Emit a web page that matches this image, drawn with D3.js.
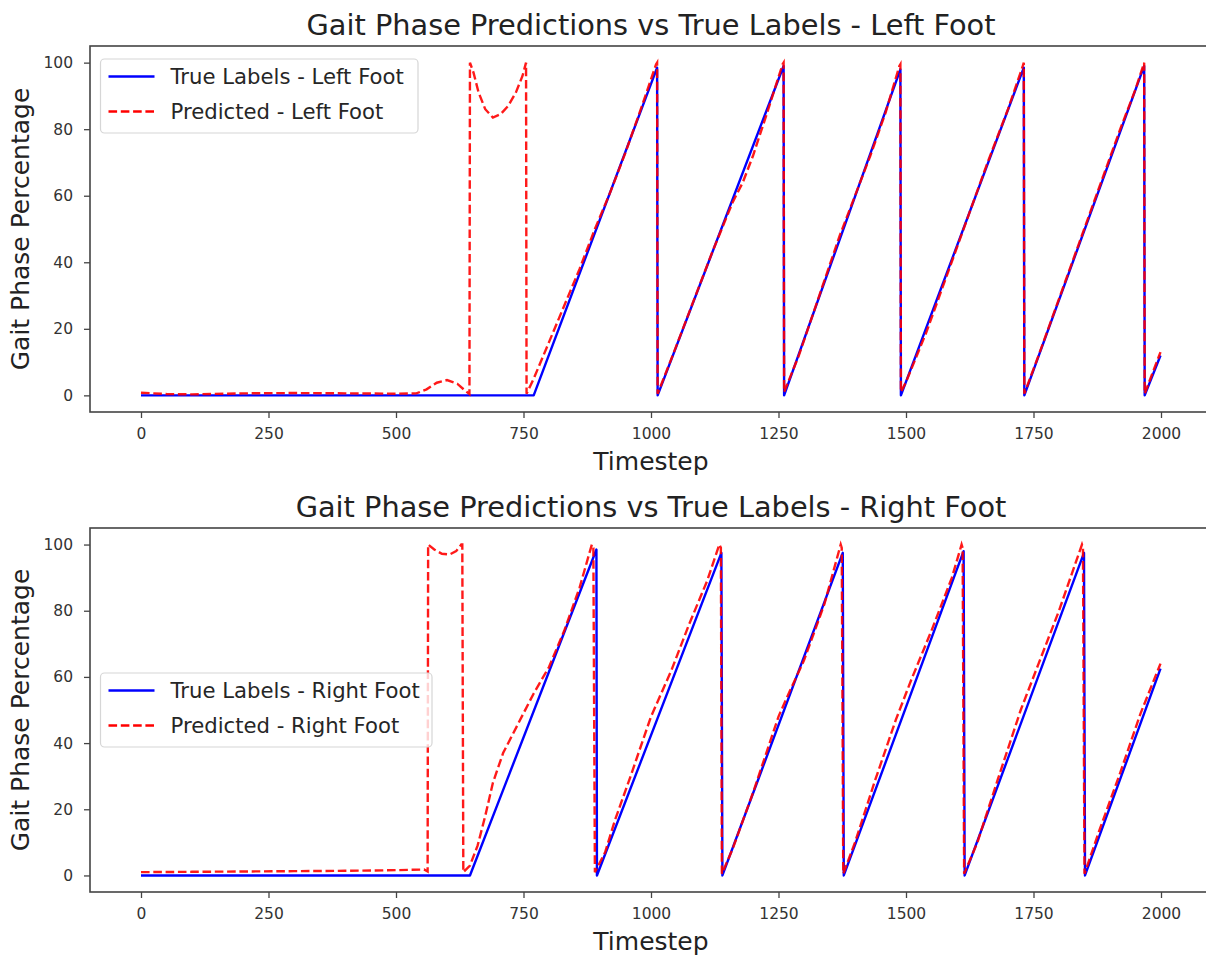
<!DOCTYPE html>
<html>
<head>
<meta charset="utf-8">
<script src="https://cdn.jsdelivr.net/npm/d3@7"></script>
<style>
  body { margin: 0; background: #fff; }
  svg { display: block; font-family: "DejaVu Sans", sans-serif; }
  .tick text { font-family: "DejaVu Sans", sans-serif; font-size: 15.5px; fill: #333; }
  .tick line { stroke: #444; stroke-width: 1.3; }
</style>
</head>
<body>
<svg class="main" width="1206" height="958"></svg>
<script>
const xTicks = [0, 250, 500, 750, 1000, 1250, 1500, 1750, 2000];
const yTicks = [0, 20, 40, 60, 80, 100];

// [timestep, gait phase %]
const leftTrue = [
  [0, 0], [770, 0], [1012, 98.5], [1013, 0], [1260, 99], [1261, 0],
  [1489, 98], [1490, 0], [1731, 98.5], [1732, 0], [1967, 99], [1968, 0],
  [1999, 12]
];

const leftPred = [
  [0, 0.8], [50, 0.4], [100, 0.3], [200, 0.6], [300, 0.7], [400, 0.6],
  [500, 0.5], [540, 0.6], [560, 1.8], [580, 3.8], [600, 4.6], [620, 3.5],
  [635, 1.5], [644, 0.4], [645, 100], [652, 97], [662, 91], [675, 86],
  [690, 83.5], [705, 84.5], [720, 87], [735, 91], [748, 96], [755, 100],
  [756, 0.5], [770, 5], [800, 16], [830, 27], [860, 38], [890, 50],
  [920, 61], [950, 73], [980, 86], [1010, 99.5], [1012, 100], [1013, 0.5],
  [1040, 11], [1080, 27], [1120, 43], [1160, 58], [1180, 64], [1200, 72],
  [1230, 86], [1258, 99.5], [1260, 100], [1261, 1],
  [1290, 12], [1330, 30], [1370, 48], [1400, 60], [1430, 72], [1460, 85],
  [1487, 99], [1489, 99.5], [1490, 1],
  [1500, 4], [1540, 19], [1580, 36], [1620, 53], [1660, 70], [1700, 86],
  [1729, 99], [1731, 100], [1732, 0.5],
  [1760, 12], [1800, 29], [1840, 46], [1880, 63], [1920, 80], [1950, 92],
  [1966, 99.5], [1967, 100], [1968, 0.5], [1999, 13]
];

const rightTrue = [
  [0, 0], [645, 0], [893, 98.5], [894, 0], [1138, 97.5], [1140, 0],
  [1376, 97.5], [1378, 0], [1613, 98], [1615, 0], [1849, 97.5], [1851, 0],
  [1999, 62.5]
];

const rightPred = [
  [0, 1.0], [100, 1.1], [200, 1.2], [300, 1.3], [400, 1.4], [500, 1.6],
  [555, 1.8], [562, 1.2], [563, 100], [575, 98.5], [590, 97.2], [605, 97],
  [618, 98], [628, 100], [630, 100], [632, 1],
  [645, 3], [660, 9], [675, 18], [690, 28], [710, 37], [740, 46],
  [770, 55], [800, 63], [830, 74], [860, 87], [884, 100], [887, 99], [890, 1],
  [910, 7], [930, 17], [960, 30], [1000, 48], [1040, 62], [1075, 76],
  [1110, 89], [1134, 100], [1137, 99], [1139, 0.5],
  [1160, 8], [1200, 25], [1250, 48], [1270, 55], [1300, 65], [1340, 82],
  [1372, 100], [1374, 99], [1377, 0.5],
  [1400, 10], [1440, 29], [1480, 47], [1510, 59], [1550, 74], [1590, 90],
  [1609, 100], [1611, 99], [1614, 0.5],
  [1640, 10], [1680, 29], [1725, 50], [1760, 64], [1800, 80], [1845, 100],
  [1847, 99], [1850, 0.5],
  [1880, 14], [1920, 31], [1960, 49], [1999, 64]
];

const main = d3.select(".main");
const x = d3.scaleLinear().domain([-100, 2100]).range([90, 1212]);
const left = 90, right = 1212, mid = (left + right) / 2;

function legend(g, lx, ly, w, labels) {
  const box = g.append("g");
  box.append("rect")
    .attr("x", lx).attr("y", ly)
    .attr("width", w).attr("height", 74)
    .attr("rx", 4)
    .attr("fill", "#fff").attr("fill-opacity", 0.8)
    .attr("stroke", "#d6d6d6").attr("stroke-width", 1.2);

  labels.forEach((d, i) => {
    const cy = ly + 17.5 + i * 35;
    box.append("line")
      .attr("x1", lx + 8).attr("x2", lx + 54)
      .attr("y1", cy).attr("y2", cy)
      .attr("stroke", d.color)
      .attr("stroke-width", 2.4)
      .attr("stroke-dasharray", d.dash);
    box.append("text")
      .attr("x", lx + 70).attr("y", cy)
      .attr("dy", "0.36em")
      .attr("font-size", 21.2)
      .attr("fill", "#262626")
      .text(d.text);
  });
}

function panel(p, id) {
  const y = d3.scaleLinear().domain([-5, 105]).range([p.bottom, p.top]);
  const g = main.append("g");

  g.append("clipPath").attr("id", id)
    .append("rect")
    .attr("x", left).attr("y", p.top)
    .attr("width", right - left).attr("height", p.bottom - p.top);

  const line = d3.line().x(d => x(d[0])).y(d => y(d[1]));

  const plot = g.append("g").attr("clip-path", `url(#${id})`);
  plot.append("path")
    .attr("d", line(p.trueData))
    .attr("fill", "none")
    .attr("stroke", "#0000ff")
    .attr("stroke-width", 2.4)
    .attr("stroke-linejoin", "round");
  plot.append("path")
    .attr("d", line(p.predData))
    .attr("fill", "none")
    .attr("stroke", "#ff0000")
    .attr("stroke-opacity", 0.9)
    .attr("stroke-width", 2.4)
    .attr("stroke-dasharray", "8.6,3.7");

  // frame
  g.append("rect")
    .attr("x", left).attr("y", p.top)
    .attr("width", right - left).attr("height", p.bottom - p.top)
    .attr("fill", "none")
    .attr("stroke", "#444")
    .attr("stroke-width", 1.6);

  g.append("g")
    .attr("transform", `translate(0,${p.bottom})`)
    .call(d3.axisBottom(x).tickValues(xTicks).tickFormat(d3.format("d"))
      .tickSize(6).tickPadding(10).tickSizeOuter(0))
    .call(a => a.select(".domain").remove());

  g.append("g")
    .attr("transform", `translate(${left},0)`)
    .call(d3.axisLeft(y).tickValues(yTicks).tickFormat(d3.format("d"))
      .tickSize(6).tickPadding(11).tickSizeOuter(0))
    .call(a => a.select(".domain").remove());

  g.append("text")
    .attr("x", mid).attr("y", p.top - 11)
    .attr("text-anchor", "middle")
    .attr("font-size", 28.8)
    .attr("fill", "#222")
    .text(p.title);

  g.append("text")
    .attr("x", mid).attr("y", p.bottom + 58)
    .attr("text-anchor", "middle")
    .attr("font-size", 25)
    .attr("fill", "#222")
    .text("Timestep");

  g.append("text")
    .attr("transform", `translate(29,${(p.top + p.bottom) / 2}) rotate(-90)`)
    .attr("text-anchor", "middle")
    .attr("font-size", 25)
    .attr("fill", "#222")
    .text("Gait Phase Percentage");

  legend(g, 100.5, p.legendTop, p.legendW, [
    { text: p.trueLabel, color: "#0000ff", dash: null },
    { text: p.predLabel, color: "#ff0000", dash: "8.6,3.7" }
  ]);
}

panel({
  top: 46, bottom: 412,
  title: "Gait Phase Predictions vs True Labels - Left Foot",
  trueData: leftTrue, predData: leftPred,
  trueLabel: "True Labels - Left Foot", predLabel: "Predicted - Left Foot",
  legendTop: 59, legendW: 317.5
}, "clip-left");

panel({
  top: 528, bottom: 892,
  title: "Gait Phase Predictions vs True Labels - Right Foot",
  trueData: rightTrue, predData: rightPred,
  trueLabel: "True Labels - Right Foot", predLabel: "Predicted - Right Foot",
  legendTop: 673, legendW: 331.5
}, "clip-right");
</script>
</body>
</html>
